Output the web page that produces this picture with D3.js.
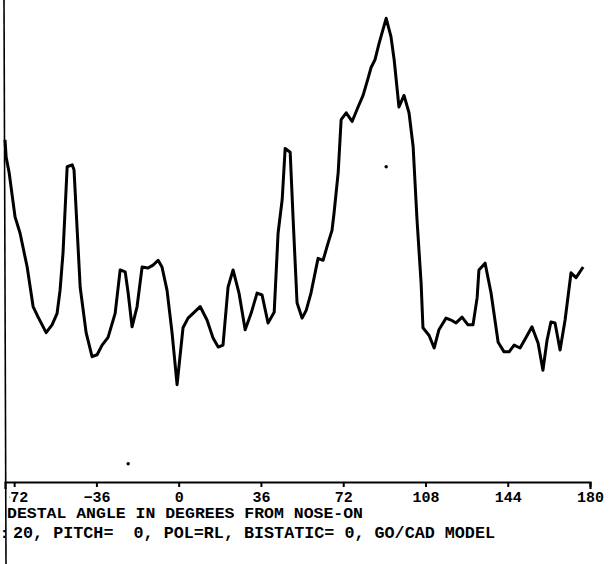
<!DOCTYPE html>
<html>
<head>
<meta charset="utf-8">
<script src="https://cdn.jsdelivr.net/npm/d3@7"></script>
<style>
  body { margin: 0; background: #fff; }
  svg { display: block; }
  text { white-space: pre; }
</style>
</head>
<body>
<svg id="chart" width="612" height="564"></svg>
<script>
// pedestal angle (deg)
const angles = [-76, -75.5, -74.2, -71.6, -69.4, -66.3, -63.7, -61.5, -58, -55.4, -53.2, -51.9, -50.6, -48.8, -46.6, -45.8,
  -43.1, -40.5, -37.9, -35.7, -33.5, -30.9, -27.8, -25.6, -23.4, -22.1, -20.4, -18.2, -16, -13.4, -11.2, -9, -7.3, -5.1,
  -2.9, -0.7, 1.9, 4.1, 6.3, 9.4, 12.4, 15.1, 17.3, 19.4, 21.6, 23.8, 26.4, 29.1, 31.7, 34.3, 36.5, 39.1, 41.8, 43.5,
  45.3, 46.6, 48.8, 50.1, 51.8, 54, 55.8, 57.9, 61, 63.2, 65.4, 67.1, 68, 69.8, 71.1, 73.3, 75.9, 78.5, 80.7, 82.9,
  84.2, 85.9, 87.7, 90.8, 92.9, 94.3, 96.4, 98.6, 100.8, 102.6, 104.3, 106.1, 106.9, 109.6, 111.8, 113.9, 117, 119.2,
  121.4, 124, 126.6, 128.8, 130.6, 131.4, 134.1, 136.7, 139.8, 142.4, 144.6, 146.8, 149.4, 152, 154.6, 157.3, 159.4,
  161.2, 162.9, 164.7, 166.9, 169.1, 171.7, 173.9, 177];

// RCS level (dB, relative) for each angle
const rcs = [-4.5, -6.3, -7.9, -12.5, -14.2, -17.7, -21.8, -22.9, -24.5, -23.7, -22.5, -20.1, -16.2, -7.3, -7.1, -7.6,
  -19.8, -24.5, -27.0, -26.8, -25.8, -25.0, -22.5, -18.0, -18.2, -20.4, -23.9, -21.8, -17.7, -17.8, -17.5, -17.0, -17.7, -20.1,
  -24.5, -29.9, -24.0, -23.0, -22.5, -21.8, -23.2, -25.1, -26.0, -25.8, -19.8, -18.0, -20.4, -24.2, -22.5, -20.4, -20.6, -23.5, -22.4, -14.2,
  -10.7, -5.4, -5.8, -12.8, -21.4, -23.0, -22.2, -20.4, -16.8, -17.0, -15.2, -13.9, -12.1, -7.9, -2.4, -1.7, -2.6, -1.1, 0.1, 1.9,
  3.0, 3.8, 5.5, 8.1, 6.2, 3.8, -1.1, 0.1, -1.7, -5.2, -12.8, -19.4, -24.0, -24.8, -26.1, -24.2, -23.0, -23.2,
  -23.5, -22.9, -23.7, -23.7, -20.9, -18.0, -17.3, -20.4, -25.5, -26.5, -26.5, -25.8, -26.1, -25.0, -23.9, -25.6, -28.4,
  -25.3, -23.4, -23.5, -26.3, -23.2, -18.3, -18.8, -17.7];

// stray specks on the scan
const speckAngles = [90.8, -22.1];
const speckLevels = [-7.3, -38.1];

const tickValues = [-72, -36, 0, 36, 72, 108, 144, 180];
const xTitle = "DESTAL ANGLE IN DEGREES FROM NOSE-ON";
const caption = "20, PITCH=  0, POL=RL, BISTATIC= 0, GO/CAD MODEL";

const svg = d3.select("#chart");
const x = d3.scaleLinear().domain([-76, 180]).range([5, 590]);
const y = d3.scaleLinear().domain([-40, 10]).range([482, 0]);
const font = "'Liberation Mono', 'DejaVu Sans Mono', monospace";

// left edge line (y axis)
svg.append("line")
    .attr("x1", 4).attr("y1", 0).attr("x2", 6).attr("y2", 564)
    .attr("stroke", "#000").attr("stroke-width", 1.6);

// x axis
const axis = svg.append("g")
    .attr("transform", `translate(0,${y(-40)})`)
    .call(d3.axisBottom(x).tickValues(tickValues).tickSize(5).tickSizeOuter(7).tickPadding(7));
axis.select(".domain").attr("stroke", "#000").attr("stroke-width", 2.2);
axis.selectAll(".tick line").attr("stroke", "#000").attr("stroke-width", 2);
axis.selectAll(".tick text")
    .attr("fill", "#000")
    .style("font-family", font)
    .style("font-size", "15px")
    .style("font-weight", "bold")
    .attr("dy", "0.5em");

// the scan cuts the minus sign of the first label off
svg.append("clipPath").attr("id", "edge")
    .append("rect").attr("x", 9 - x(-72)).attr("y", -20).attr("width", 60).attr("height", 60);
axis.selectAll(".tick").filter(d => d === -72).select("text").attr("clip-path", "url(#edge)");

// the curve
const line = d3.line()
    .x((d, i) => x(angles[i]))
    .y(d => y(d));

svg.append("path")
    .datum(rcs)
    .attr("d", line)
    .attr("fill", "none")
    .attr("stroke", "#000")
    .attr("stroke-width", 3)
    .attr("stroke-linejoin", "round");

svg.selectAll(".speck")
    .data(speckAngles)
    .join("circle")
    .attr("class", "speck")
    .attr("cx", d => x(d))
    .attr("cy", (d, i) => y(speckLevels[i]))
    .attr("r", 1.7)
    .attr("fill", "#000");

// texts under the axis
svg.append("text")
    .attr("x", 7).attr("y", 518)
    .attr("textLength", 356).attr("lengthAdjust", "spacingAndGlyphs")
    .style("font-family", font).style("font-size", "15px").style("font-weight", "bold")
    .text(xTitle);

svg.append("text")
    .attr("x", 0).attr("y", 538)
    .style("font-family", font).style("font-size", "14px").style("font-weight", "bold")
    .text(":");

svg.append("text")
    .attr("x", 13).attr("y", 538)
    .attr("textLength", 482).attr("lengthAdjust", "spacingAndGlyphs")
    .style("font-family", font).style("font-size", "16px").style("font-weight", "bold")
    .text(caption);
</script>
</body>
</html>
